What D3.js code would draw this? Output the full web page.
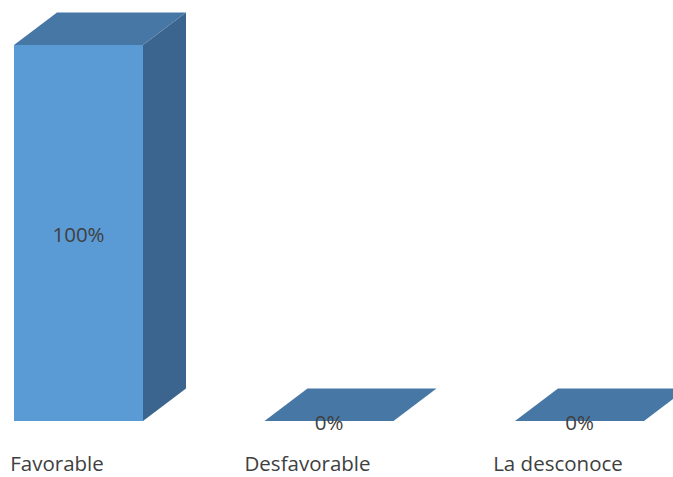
<!DOCTYPE html>
<html>
<head>
<meta charset="utf-8">
<script src="https://cdn.jsdelivr.net/npm/d3@7"></script>
<style>
  html, body { margin: 0; padding: 0; background: #ffffff; }
  svg { display: block; }
  text { font-family: "Open Sans", sans-serif; fill: #404040; }
</style>
</head>
<body>
<svg id="chart" width="673" height="477"></svg>
<script>
const categories = ["Favorable", "Desfavorable", "La desconoce"];
const values = [100, 0, 0];
const valueLabels = ["100%", "0%", "0%"];

const W = 673, H = 477;
const svg = d3.select("#chart");

const x = d3.scaleBand()
  .domain(categories)
  .range([-46.75, 704.75])
  .paddingInner(0.485)
  .paddingOuter(0.2425);

const y = d3.scaleLinear().domain([0, 100]).range([421, 45]);

const dx = 43, dy = 32.5;
const colFront = "#5b9bd5", colTop = "#4677a5", colSide = "#3b658f";

const bw = x.bandwidth();
const data = categories.map((c, i) => ({ c, v: values[i], label: valueLabels[i] }));

const g = svg.append("g");

data.forEach(d => {
  const x0 = x(d.c), x1 = x0 + bw;
  const yt = y(d.v), yb = y(0);
  g.append("polygon")
    .attr("points", [[x1, yt], [x1 + dx, yt - dy], [x1 + dx, yb - dy], [x1, yb]].map(p => p.join(",")).join(" "))
    .attr("fill", colSide);
  if (yb - yt > 0) {
    g.append("rect").attr("x", x0).attr("y", yt).attr("width", bw).attr("height", yb - yt).attr("fill", colFront);
  }
  g.append("polygon")
    .attr("points", [[x0, yt], [x0 + dx, yt - dy], [x1 + dx, yt - dy], [x1, yt]].map(p => p.join(",")).join(" "))
    .attr("fill", colTop);
});

data.forEach(d => {
  const mid = (y(d.v) + y(0)) / 2;
  g.append("text")
    .attr("x", x(d.c) + bw / 2)
    .attr("y", mid + 9)
    .attr("text-anchor", "middle")
    .attr("font-size", 20.5)
    .text(d.label);
});

data.forEach(d => {
  g.append("text")
    .attr("x", x(d.c) + bw / 2 - dx / 2)
    .attr("y", 471)
    .attr("text-anchor", "middle")
    .attr("font-size", 20.5)
    .text(d.c);
});
</script>
</body>
</html>
